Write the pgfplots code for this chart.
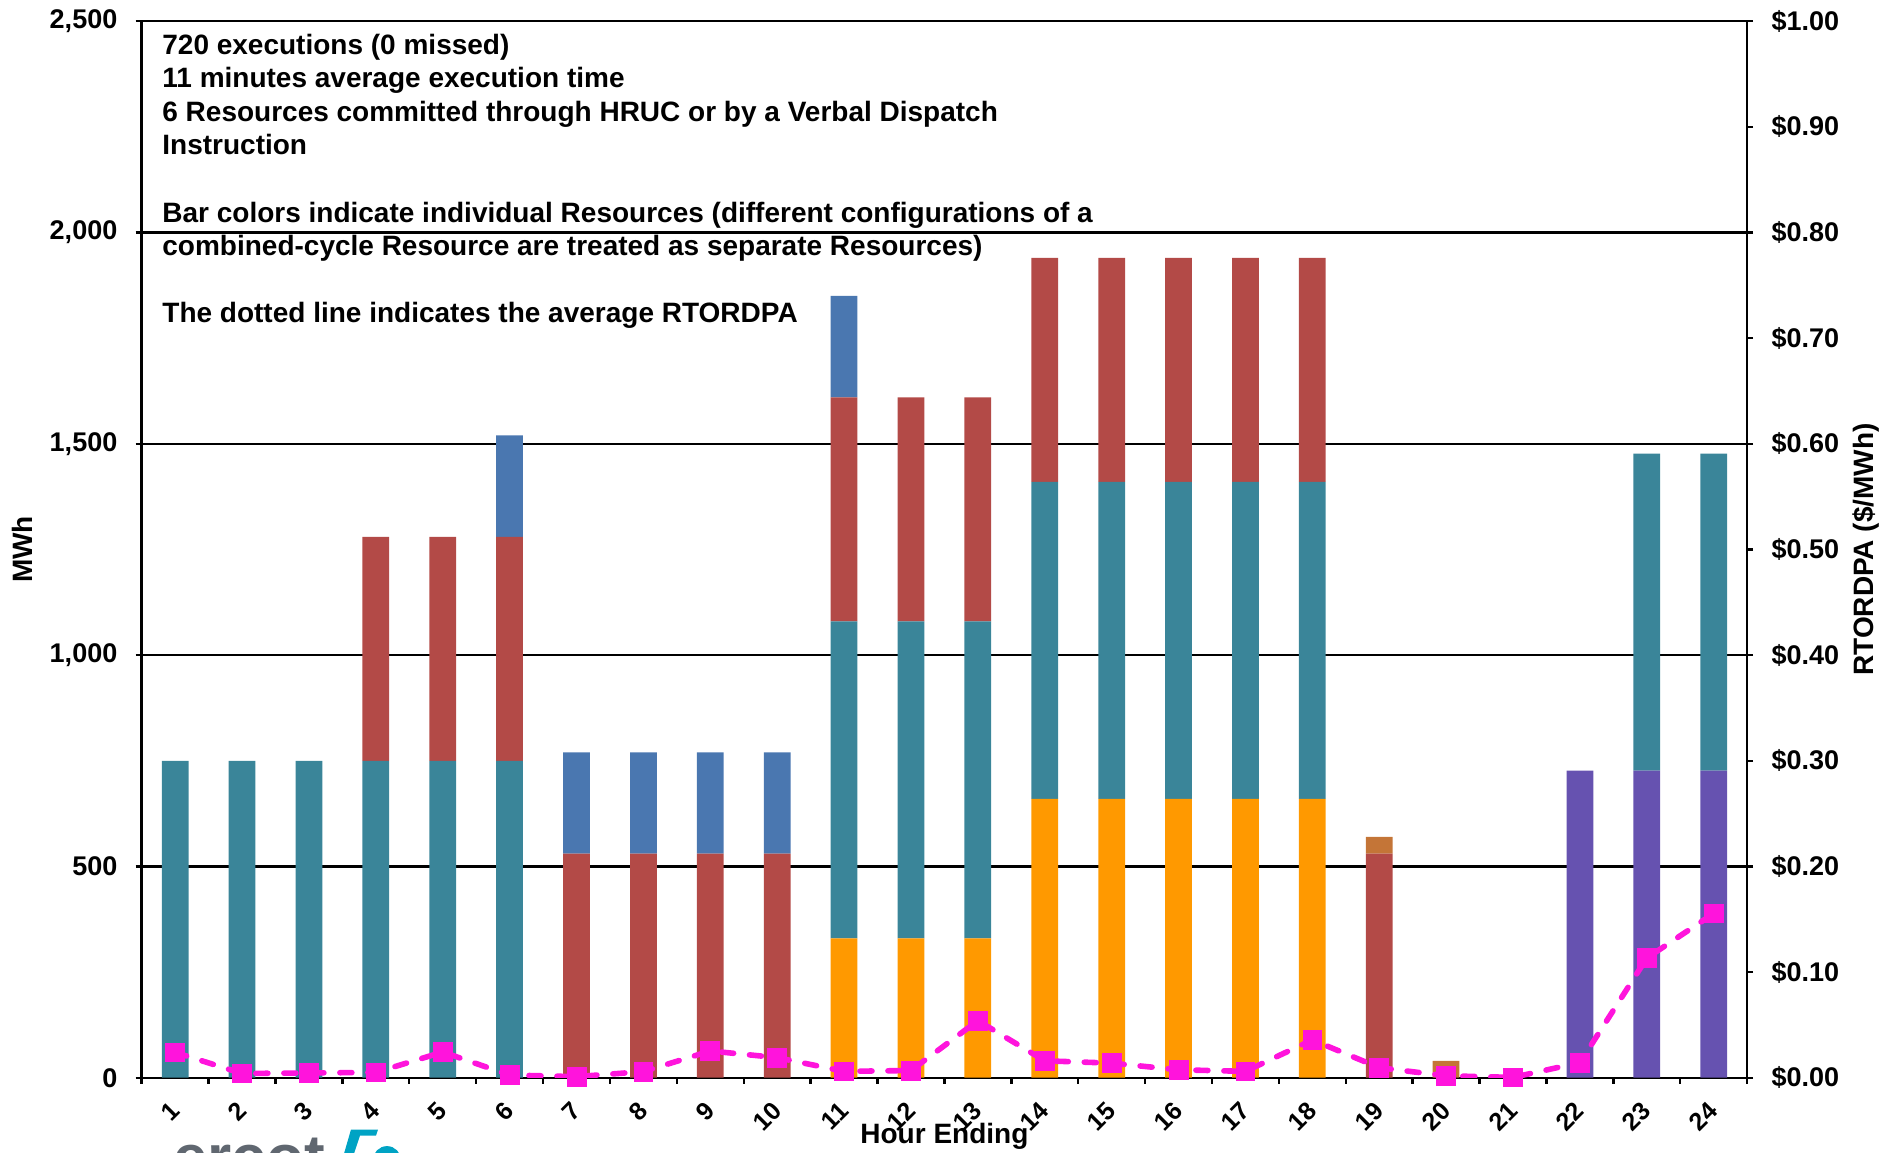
\documentclass[border=0pt]{standalone}
\usepackage{pgfplots}
\usepackage{pgfplotstable}
\pgfplotsset{compat=1.18}
\usepackage{fontspec}
\setmainfont{Liberation Sans}
\definecolor{cteal}{RGB}{58,133,153}
\definecolor{cred}{RGB}{179,74,71}
\definecolor{cblue}{RGB}{74,119,176}
\definecolor{corange}{RGB}{255,153,0}
\definecolor{cbrown}{RGB}{196,117,55}
\definecolor{cpurple}{RGB}{102,82,176}
\definecolor{cmag}{RGB}{255,20,220}
\definecolor{logogray}{RGB}{96,103,112}
\definecolor{logocyan}{RGB}{0,163,196}

\pgfplotstableread{
h  or  pu  te  re  br  bl
1  0   0   750 0   0   0
2  0   0   750 0   0   0
3  0   0   750 0   0   0
4  0   0   750 530 0   0
5  0   0   750 530 0   0
6  0   0   750 530 0   240
7  0   0   0   530 0   240
8  0   0   0   530 0   240
9  0   0   0   530 0   240
10 0   0   0   530 0   240
11 330 0   750 530 0   240
12 330 0   750 530 0   0
13 330 0   750 530 0   0
14 660 0   750 530 0   0
15 660 0   750 530 0   0
16 660 0   750 530 0   0
17 660 0   750 530 0   0
18 660 0   750 530 0   0
19 0   0   0   530 40  0
20 0   0   0   0   40  0
21 0   0   0   0   0   0
22 0   727 0   0   0   0
23 0   727 750 0   0   0
24 0   727 750 0   0   0
}\bardata

\pgfplotstableread{
h  p
1  0.0240
2  0.0040
3  0.0045
4  0.0050
5  0.0243
6  0.0025
7  0.0010
8  0.0058
9  0.0253
10 0.0190
11 0.0060
12 0.0068
13 0.0540
14 0.0160
15 0.0138
16 0.0075
17 0.0060
18 0.0358
19 0.0095
20 0.0018
21 0.0003
22 0.0143
23 0.1132
24 0.1555
}\pricedata

\begin{document}
\begin{tikzpicture}
\useasboundingbox (-70.85pt,-37.15pt) rectangle (870.65pt,538.85pt);
\begin{axis}[
  scale only axis, width=802.7pt, height=528.2pt,
  xmin=0.5, xmax=24.5, ymin=0, ymax=2500,
  axis x line*=bottom, axis y line*=left,
  ybar stacked, bar width=0.4,
  xtick={1,...,24}, minor xtick={0.5,1.5,...,24.5},
  ytick={0,500,...,2500},
  tick align=outside, major tick length=3pt, minor tick length=3pt,
  every major x tick/.append style={draw=none},
  tick style={black, line width=1.2pt},
  axis line style={black, line width=1.2pt},
  ymajorgrids, grid style={black, line width=1.2pt},
  /pgf/number format/assume math mode=true,
  /pgf/number format/1000 sep={,},
  yticklabel style={font=\fontsize{13.5}{16}\selectfont\bfseries, anchor=east, inner sep=0pt, xshift=-9pt},
  xticklabel style={font=\fontsize{12.5}{15}\selectfont\bfseries, anchor=east, inner sep=0pt, xshift=0pt, yshift=-11.5pt, rotate=45},
]
\addplot[fill=corange, draw=none] table[x=h, y=or]{\bardata};
\addplot[fill=cpurple, draw=none] table[x=h, y=pu]{\bardata};
\addplot[fill=cteal, draw=none] table[x=h, y=te]{\bardata};
\addplot[fill=cred, draw=none] table[x=h, y=re]{\bardata};
\addplot[fill=cbrown, draw=none] table[x=h, y=br]{\bardata};
\addplot[fill=cblue, draw=none] table[x=h, y=bl]{\bardata};
\end{axis}
\begin{axis}[
  scale only axis, width=802.7pt, height=528.2pt,
  xmin=0.5, xmax=24.5, ymin=0, ymax=1,
  axis x line=none, axis y line*=right,
  ytick={0,0.1,0.2,0.3,0.4,0.5,0.6,0.7,0.8,0.9,1.0},
  tick align=outside, major tick length=3pt,
  tick style={black, line width=1.2pt},
  axis line style={black, line width=1.2pt},
  /pgf/number format/assume math mode=true,
  yticklabel={\$\pgfmathprintnumber[fixed,fixed zerofill,precision=2]{\tick}},
  yticklabel style={font=\fontsize{13.5}{16}\selectfont\bfseries, anchor=west, inner sep=0pt, xshift=9pt},
]
\addplot[cmag, line width=2.8pt, dash pattern=on 6pt off 8pt, line cap=round,
  mark=square*, mark size=4.7pt,
  mark options={solid, fill=cmag, draw=cmag, line width=0.4pt}]
  table[x=h, y=p]{\pricedata};
\end{axis}

\begin{scope}[every node/.style={anchor=base west, inner sep=0pt, font=\fontsize{14}{16.8}\selectfont\bfseries}]
\node at (10.15pt,511.8pt) {720 executions (0 missed)};
\node at (10.15pt,495.0pt) {11 minutes average execution time};
\node at (10.15pt,478.2pt) {6 Resources committed through HRUC or by a Verbal Dispatch};
\node at (10.15pt,461.4pt) {Instruction};
\node at (10.15pt,427.8pt) {Bar colors indicate individual Resources (different configurations of a};
\node at (10.15pt,411.0pt) {combined-cycle Resource are treated as separate Resources)};
\node at (10.15pt,377.4pt) {The dotted line indicates the average RTORDPA};
\end{scope}

\node[rotate=90, font=\fontsize{14}{16.8}\selectfont\bfseries] at (-59.85pt,264.1pt) {MWh};
\node[rotate=90, font=\fontsize{14}{16.8}\selectfont\bfseries] at (862pt,264.1pt) {RTORDPA (\$/MWh)};
\node[font=\fontsize{14}{16.8}\selectfont\bfseries] at (401.35pt,-29.2pt) {Hour Ending};

% logo fragment at the bottom edge
\node[anchor=base west, inner sep=0pt, text=logogray, font=\fontsize{31}{31}\selectfont\bfseries] at (15.65pt,-50.3pt) {ercot};
\fill[logocyan] (104.65pt,-25.9pt) -- (118.15pt,-25.9pt) -- (117.15pt,-28.9pt) -- (109.15pt,-28.9pt) -- (106.15pt,-38pt) -- (101.15pt,-38pt) -- cycle;
\fill[logocyan] (122.65pt,-41.2pt) ellipse (7pt and 7pt);
\end{tikzpicture}
\end{document}
